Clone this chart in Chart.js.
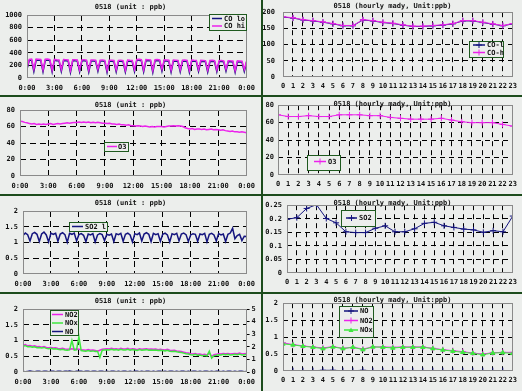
<!DOCTYPE html>
<html lang="en">
<head>
<meta charset="UTF-8">
<title>0518</title>
<style>
  html, body { margin: 0; padding: 0; }
  body { background: #1c4c1c; width: 522px; height: 391px; overflow: hidden; }
  .grid {
    display: grid;
    grid-template-columns: 261px 259px;
    grid-template-rows: 95px 97px 96px 97px;
    column-gap: 2px;
    row-gap: 2px;
  }
  .cell { background: #eceeec; }
  canvas { display: block; }
</style>
</head>
<body>
<div class="grid">
  <div class="cell"><canvas id="coDay" width="261" height="95"></canvas></div>
  <div class="cell"><canvas id="coHour" width="259" height="95"></canvas></div>
  <div class="cell"><canvas id="o3Day" width="261" height="97"></canvas></div>
  <div class="cell"><canvas id="o3Hour" width="259" height="97"></canvas></div>
  <div class="cell"><canvas id="so2Day" width="261" height="96"></canvas></div>
  <div class="cell"><canvas id="so2Hour" width="259" height="96"></canvas></div>
  <div class="cell"><canvas id="noxDay" width="261" height="97"></canvas></div>
  <div class="cell"><canvas id="noxHour" width="259" height="97"></canvas></div>
</div>

<script src="https://cdn.jsdelivr.net/npm/chart.js"></script>
<script>
// ---- data: 15 minute samples for the day (0:00 .. 24:00) ----
const STEP_H = 0.25;

const CO_HI = [
  160, 295, 300, 140,  300, 298, 295, 130,  298, 300, 292, 125,  295, 290, 288, 135,
  292, 290, 285, 120,  290, 288, 286, 130,  288, 290, 284, 125,  286, 285, 282, 140,
  284, 286, 280, 120,  282, 280, 278, 130,  280, 282, 276, 125,  285, 280, 278, 135,
  295, 298, 290, 130,  292, 290, 288, 120,  290, 292, 286, 140,  288, 285, 282, 125,
  284, 282, 280, 130,  282, 285, 278, 120,  285, 282, 280, 135,  280, 278, 276, 125,
  278, 280, 275, 130,  276, 278, 272, 140,  275, 272, 270, 120,  272, 270, 268, 135,
  265
];
const CO_LO = [
  140, 280, 285, 105,  285, 282, 280, 100,  282, 285, 276, 95,   280, 275, 272, 105,
  276, 275, 270, 90,   275, 272, 270, 100,  272, 275, 268, 95,   270, 270, 266, 110,
  268, 270, 264, 90,   266, 265, 262, 100,  265, 266, 260, 95,   270, 265, 262, 105,
  280, 282, 275, 100,  276, 275, 272, 90,   275, 276, 270, 110,  272, 270, 266, 95,
  268, 266, 265, 100,  266, 270, 262, 90,   270, 266, 265, 105,  265, 262, 260, 95,
  262, 265, 260, 100,  260, 262, 256, 110,  260, 256, 255, 90,   256, 255, 252, 105,
  250
];
const O3 = [
  66.5, 66, 65, 64.5,  63.5, 63, 63.5, 62.5,  63, 62.5, 63, 62.5,  63, 63.5, 62.5, 63,
  63.5, 63, 63.5, 64,  64.5, 64, 64.5, 65,  65, 65.5, 65, 65.5,  65, 65.5, 64.5, 65,
  64.5, 65, 64.5, 64,  64, 63.5, 64, 63,  63, 62.5, 63, 62,  62, 61.5, 62, 61,
  61, 60.5, 61, 60.5,  60, 60.5, 60, 59.5,  60, 59.5, 60, 60,  60, 59.5, 60, 60.5,
  60.5, 61, 60.5, 61,  60.5, 60, 58.5, 57.5,  57, 57.5, 56.5, 57,  57, 56.5, 57, 56,
  56.5, 57, 56, 56.5,  56, 55.5, 56, 55,  54.5, 54, 54.5, 53.5,  53.5, 53, 53.5, 53,
  52.5
];
const SO2 = [
  1.22, 1.30, 1.25, 1.05,  1.28, 1.32, 1.26, 1.03,  1.27, 1.33, 1.24, 1.02,  1.30, 1.26, 1.29, 1.04,
  1.27, 1.31, 1.25, 1.01,  1.29, 1.26, 1.30, 1.05,  1.25, 1.28, 1.23, 1.03,  1.27, 1.24, 1.28, 1.02,
  1.24, 1.28, 1.25, 1.06,  1.26, 1.23, 1.27, 1.03,  1.28, 1.25, 1.29, 1.04,  1.26, 1.30, 1.24, 1.02,
  1.28, 1.25, 1.30, 1.05,  1.27, 1.31, 1.26, 1.03,  1.29, 1.25, 1.28, 1.04,  1.26, 1.30, 1.24, 1.02,
  1.28, 1.25, 1.29, 1.05,  1.27, 1.30, 1.25, 1.03,  1.24, 1.28, 1.26, 1.04,  1.27, 1.25, 1.29, 1.02,
  1.26, 1.29, 1.24, 1.05,  1.28, 1.24, 1.27, 1.03,  1.26, 1.30, 1.45, 1.12,  1.22, 1.26, 1.06, 1.20,
  1.19
];
const NOX = [
  0.82, 0.84, 0.80, 0.81,  0.79, 0.80, 0.77, 0.78,  0.76, 0.78, 0.75, 0.74,  0.75, 0.73, 0.74, 0.72,
  0.71, 0.72, 0.70, 0.69,  0.70, 1.00, 0.69, 0.70,  1.12, 0.68, 0.67, 0.66,  0.68, 0.66, 0.67, 0.65,
  0.66, 0.46, 0.69, 0.70,  0.71, 0.70, 0.72, 0.70,  0.71, 0.69, 0.72, 0.70,  0.70, 0.72, 0.69, 0.71,
  0.70, 0.68, 0.71, 0.69,  0.70, 0.71, 0.69, 0.70,  0.69, 0.70, 0.68, 0.69,  0.68, 0.67, 0.69, 0.66,
  0.65, 0.66, 0.64, 0.63,  0.62, 0.60, 0.58, 0.57,  0.55, 0.54, 0.56, 0.53,  0.54, 0.52, 0.53, 0.51,
  0.66, 0.44, 0.52, 0.53,  0.55, 0.54, 0.56, 0.55,  0.56, 0.54, 0.55, 0.56,  0.55, 0.57, 0.54, 0.55,
  0.56
];
const NO2 = [
  0.85, 0.87, 0.83, 0.84,  0.82, 0.83, 0.80, 0.81,  0.79, 0.81, 0.78, 0.77,  0.78, 0.76, 0.77, 0.75,
  0.74, 0.75, 0.73, 0.72,  0.73, 0.74, 0.72, 0.73,  0.72, 0.71, 0.70, 0.69,  0.71, 0.69, 0.70, 0.68,
  0.66, 0.69, 0.72, 0.73,  0.74, 0.73, 0.75, 0.73,  0.74, 0.72, 0.75, 0.73,  0.73, 0.75, 0.72, 0.74,
  0.73, 0.71, 0.74, 0.72,  0.73, 0.74, 0.72, 0.73,  0.72, 0.73, 0.71, 0.72,  0.71, 0.70, 0.72, 0.69,
  0.68, 0.69, 0.67, 0.66,  0.65, 0.63, 0.61, 0.60,  0.58, 0.57, 0.59, 0.56,  0.57, 0.55, 0.56, 0.54,
  0.60, 0.50, 0.55, 0.56,  0.58, 0.57, 0.59, 0.58,  0.59, 0.57, 0.58, 0.59,  0.58, 0.60, 0.57, 0.58,
  0.59
];
const NO = [
  0.02, 0.01, 0.02, 0.03,  0.02, 0.01, 0.02, 0.02,  0.01, 0.02, 0.02, 0.01,  0.02, 0.02, 0.01, 0.02,
  0.02, 0.01, 0.02, 0.02,  0.03, 0.02, 0.01, 0.02,  0.02, 0.02, 0.01, 0.02,  0.02, 0.01, 0.02, 0.02,
  0.01, 0.02, 0.02, 0.01,  0.02, 0.01, 0.02, 0.02,  0.01, 0.02, 0.01, 0.02,  0.02, 0.01, 0.02, 0.01,
  0.02, 0.02, 0.01, 0.02,  0.01, 0.02, 0.02, 0.01,  0.02, 0.01, 0.02, 0.02,  0.01, 0.02, 0.01, 0.02,
  0.02, 0.01, 0.02, 0.01,  0.02, 0.02, 0.01, 0.02,  0.01, 0.02, 0.02, 0.01,  0.02, 0.01, 0.02, 0.02,
  0.01, 0.02, 0.01, 0.02,  0.02, 0.01, 0.02, 0.01,  0.02, 0.02, 0.01, 0.02,  0.01, 0.02, 0.02, 0.01,
  0.02
];

// ---- data: hourly averages (hours 0 .. 23) ----
const HOURS = [0, 1, 2, 3, 4, 5, 6, 7, 8, 9, 10, 11, 12, 13, 14, 15, 16, 17, 18, 19, 20, 21, 22, 23];
const CO_H_HR = [186, 183, 177, 174, 170, 165, 159, 159, 177, 174, 169, 166, 161, 157, 157, 159, 161, 165, 174, 174, 169, 164, 159, 165];
const CO_L_HR = [185, 182, 176, 173, 169, 164, 158, 158, 176, 173, 168, 165, 160, 156, 156, 158, 160, 164, 173, 173, 168, 163, 158, 164];
const O3_HR = [69, 67, 67, 68, 67, 67, 69, 69, 69, 68, 68, 66, 65, 64, 64, 64, 65, 63, 61, 60, 60, 60, 58, 56];
const SO2_HR = [0.198, 0.204, 0.238, 0.252, 0.201, 0.185, 0.152, 0.149, 0.149, 0.165, 0.174, 0.152,
                0.152, 0.163, 0.183, 0.187, 0.174, 0.168, 0.162, 0.159, 0.150, 0.156, 0.152, 0.210];
const NOX_HR = [0.80, 0.77, 0.73, 0.70, 0.66, 0.71, 0.66, 0.70, 0.63, 0.71, 0.70, 0.68,
                0.70, 0.70, 0.70, 0.66, 0.62, 0.585, 0.55, 0.52, 0.48, 0.53, 0.54, 0.52];
const NO2_HR = [0.83, 0.78, 0.74, 0.71, 0.68, 0.72, 0.67, 0.70, 0.65, 0.71, 0.71, 0.70,
                0.71, 0.71, 0.71, 0.67, 0.63, 0.60, 0.57, 0.53, 0.50, 0.54, 0.55, 0.55];
const NO_HR = [0.01, 0.01, 0.01, 0.01, 0.02, 0.02, 0.01, 0.01, 0.02, 0.01, 0.01, 0.01,
               0.01, 0.01, 0.01, 0.01, 0.01, 0.01, 0.01, 0.01, 0.01, 0.01, 0.01, 0.01];

// ---- look ----
const PANEL_BG = '#eceeec';
const NAVY = '#14147e';
const MAGENTA = '#ec22ec';
const GREEN = '#3ee83e';
const LEGEND_BORDER = '#1f5a1f';
const FONT = 'bold 7px "DejaVu Sans Mono"';

Chart.defaults.font.family = '"DejaVu Sans Mono", monospace';
Chart.defaults.font.size = 7;
Chart.defaults.font.weight = 'bold';
Chart.defaults.color = '#111';

function daySeries(values) {
  return values.map((v, i) => ({ x: i * STEP_H, y: v }));
}
function hourSeries(values) {
  return values.map((v, i) => ({ x: HOURS[i], y: v }));
}
function fmt(v) { return String(+v.toFixed(3)); }

// skip grid lines that sit on the plot frame
function innerGrid(c) {
  const s = c.scale;
  if (!c.tick) return '#000';
  return (Math.abs(c.tick.value - s.min) < 1e-9 || Math.abs(c.tick.value - s.max) < 1e-9) ? 'rgba(0,0,0,0)' : '#000';
}

function drawMarker(c, style, x, y, color) {
  c.save();
  c.strokeStyle = color; c.fillStyle = color; c.lineWidth = 1;
  if (style === 'cross') {
    c.beginPath();
    c.moveTo(x - 3, y); c.lineTo(x + 3, y);
    c.moveTo(x, y - 3); c.lineTo(x, y + 3);
    c.stroke();
  } else if (style === 'triangle') {
    c.beginPath();
    c.moveTo(x, y - 2.5); c.lineTo(x + 2.5, y + 2); c.lineTo(x - 2.5, y + 2);
    c.closePath(); c.fill();
  }
  c.restore();
}

// frame, title and boxed legend, as drawn by the original tool
function panelPlugin(p) {
  return {
    id: 'panel',
    beforeDraw(chart) {
      const c = chart.ctx;
      c.save();
      c.fillStyle = PANEL_BG;
      c.fillRect(0, 0, chart.width, chart.height);
      c.restore();
    },
    afterDraw(chart) {
      const c = chart.ctx, a = chart.chartArea;
      c.save();
      c.strokeStyle = '#8a8a8a';
      c.lineWidth = 1;
      c.strokeRect(Math.round(a.left) + 0.5, Math.round(a.top) + 0.5,
                   Math.round(a.right - a.left) - 1, Math.round(a.bottom - a.top) - 1);

      c.font = FONT;
      c.fillStyle = '#111';
      c.textAlign = 'center';
      c.textBaseline = 'middle';
      c.fillText(p.title, chart.width / 2, p.titleY);

      const L = p.legend;
      c.fillStyle = PANEL_BG;
      c.fillRect(L.x, L.y, L.w, L.h);
      c.strokeStyle = LEGEND_BORDER;
      c.strokeRect(L.x + 0.5, L.y + 0.5, L.w, L.h);
      c.textAlign = 'left';
      L.items.forEach(it => {
        const ds = chart.data.datasets[it.ds];
        c.strokeStyle = ds.borderColor;
        c.lineWidth = 1.5;
        c.beginPath();
        c.moveTo(L.lx0, it.y); c.lineTo(L.lx1, it.y);
        c.stroke();
        if (ds.pointRadius > 0) drawMarker(c, ds.pointStyle, (L.lx0 + L.lx1) / 2, it.y, ds.borderColor);
        c.fillStyle = '#111';
        c.fillText(ds.label, L.tx, it.y + 0.5);
      });
      c.restore();
    }
  };
}

function dayChart(id, p) {
  const scales = {
    x: {
      type: 'linear', min: 0, max: 24,
      ticks: { stepSize: 3, padding: p.xPad, maxRotation: 0, autoSkip: false,
               callback: v => (v % 24) + ':00' },
      grid: { color: innerGrid, lineWidth: 1, drawTicks: false },
      border: { display: false, dash: [6, 4] },
      afterFit: s => { s.height = p.xh; }
    },
    y: {
      type: 'linear', min: p.yMin, max: p.yMax,
      ticks: { stepSize: p.yStep, padding: 5, callback: fmt },
      grid: { color: innerGrid, lineWidth: 1, drawTicks: false },
      border: { display: false, dash: [6, 4] },
      afterFit: s => { s.width = p.left; }
    }
  };
  if (p.y2) {
    scales.y2 = {
      type: 'linear', position: 'right', min: p.y2.min, max: p.y2.max,
      ticks: { stepSize: p.y2.step, padding: 2, callback: fmt },
      grid: { drawOnChartArea: false, drawTicks: true, tickLength: 3, color: '#000' },
      border: { display: false },
      afterFit: s => { s.width = p.right; }
    };
  }
  return new Chart(document.getElementById(id), {
    type: 'line',
    data: { datasets: p.datasets },
    options: {
      responsive: false, animation: false,
      layout: { padding: { top: p.top, right: p.y2 ? 0 : p.right, left: 0, bottom: 0 } },
      plugins: { legend: { display: false }, tooltip: { enabled: false } },
      elements: { point: { radius: 0 }, line: { tension: 0 } },
      scales
    },
    plugins: [panelPlugin(p)]
  });
}

function hourChart(id, p) {
  return new Chart(document.getElementById(id), {
    type: 'line',
    data: { datasets: p.datasets },
    options: {
      responsive: false, animation: false,
      layout: { padding: { top: p.top, right: p.right, left: 0, bottom: 0 } },
      plugins: { legend: { display: false }, tooltip: { enabled: false } },
      elements: { line: { tension: 0 } },
      scales: {
        x: {
          type: 'linear', min: 0, max: 23,
          ticks: { stepSize: 1, padding: p.xPad, maxRotation: 0, autoSkip: false, callback: v => v },
          grid: { color: innerGrid, lineWidth: 1, drawTicks: false },
          border: { display: false, dash: [5, 4] },
          afterFit: s => { s.height = p.xh; }
        },
        y: {
          type: 'linear', min: p.yMin, max: p.yMax,
          ticks: { stepSize: p.yStep, padding: p.yPad, callback: fmt },
          grid: { color: innerGrid, lineWidth: 1, drawTicks: false },
          border: { display: false, dash: [5, 4] },
          afterFit: s => { s.width = p.left; }
        }
      }
    },
    plugins: [panelPlugin(p)]
  });
}

function dayLine(label, values, color, order) {
  return { label, data: daySeries(values), borderColor: color, backgroundColor: color,
           borderWidth: 1.5, pointRadius: 0, order };
}
function hourLine(label, values, color, style, order) {
  return { label, data: hourSeries(values), borderColor: color, backgroundColor: color,
           borderWidth: 1, pointStyle: style, pointRadius: style === 'triangle' ? 2.5 : 3,
           pointBorderWidth: 1, order };
}

const DAY_TITLE = '0518 (unit : ppb)';
const HOUR_TITLE = '0518 (hourly mady, Unit:ppb)';

// CO
dayChart('coDay', {
  title: DAY_TITLE, titleY: 7, top: 15, right: 13, left: 27, xh: 17, xPad: 6,
  yMin: 0, yMax: 1000, yStep: 200,
  datasets: [dayLine('CO lo', CO_LO, NAVY, 1), dayLine('CO hi', CO_HI, MAGENTA, 0)],
  legend: { x: 209, y: 14, w: 37, h: 16, lx0: 212, lx1: 222, tx: 224,
            items: [{ ds: 0, y: 18.5 }, { ds: 1, y: 26 }] }
});
hourChart('coHour', {
  title: HOUR_TITLE, titleY: 6, top: 12, right: 7, left: 20, xh: 18, xPad: 5, yPad: 8,
  yMin: 0, yMax: 200, yStep: 50,
  datasets: [hourLine('CO-l', CO_L_HR, NAVY, 'cross', 1), hourLine('CO-h', CO_H_HR, MAGENTA, 'cross', 0)],
  legend: { x: 206, y: 41, w: 34, h: 16, lx0: 210, lx1: 222, tx: 224,
            items: [{ ds: 0, y: 45 }, { ds: 1, y: 52.5 }] }
});

// O3
dayChart('o3Day', {
  title: DAY_TITLE, titleY: 8, top: 13, right: 13, left: 20, xh: 18, xPad: 6,
  yMin: 0, yMax: 80, yStep: 20,
  datasets: [dayLine('O3', O3, MAGENTA, 0)],
  legend: { x: 104, y: 45, w: 24, h: 9, lx0: 107, lx1: 117, tx: 118,
            items: [{ ds: 0, y: 49.5 }] }
});
hourChart('o3Hour', {
  title: HOUR_TITLE, titleY: 7, top: 8, right: 7, left: 15, xh: 19, xPad: 5, yPad: 4,
  yMin: 0, yMax: 80, yStep: 20,
  datasets: [hourLine('O3', O3_HR, MAGENTA, 'cross', 0)],
  legend: { x: 44, y: 58, w: 33, h: 15, lx0: 51, lx1: 63, tx: 65,
            items: [{ ds: 0, y: 64.5 }] }
});

// SO2
dayChart('so2Day', {
  title: DAY_TITLE, titleY: 7, top: 15, right: 13, left: 23, xh: 18, xPad: 6,
  yMin: 0, yMax: 2, yStep: 0.5,
  datasets: [dayLine('SO2 l', SO2, NAVY, 0)],
  legend: { x: 69, y: 26, w: 38, h: 9, lx0: 72, lx1: 83, tx: 85,
            items: [{ ds: 0, y: 30.5 }] }
});
hourChart('so2Hour', {
  title: HOUR_TITLE, titleY: 7, top: 9, right: 7, left: 24, xh: 19, xPad: 5, yPad: 5,
  yMin: 0, yMax: 0.25, yStep: 0.05,
  datasets: [hourLine('SO2', SO2_HR, NAVY, 'cross', 0)],
  legend: { x: 78, y: 14, w: 34, h: 16, lx0: 83, lx1: 94, tx: 96,
            items: [{ ds: 0, y: 22 }] }
});

// NOx
dayChart('noxDay', {
  title: DAY_TITLE, titleY: 7, top: 15, right: 13, left: 23, xh: 19, xPad: 6,
  yMin: 0, yMax: 2, yStep: 0.5, y2: { min: 0, max: 5, step: 1 },
  datasets: [dayLine('NO2', NO2, MAGENTA, 1), dayLine('NOx', NOX, GREEN, 0), dayLine('NO', NO, NAVY, 2)],
  legend: { x: 50, y: 16, w: 28, h: 25, lx0: 52, lx1: 63, tx: 65,
            items: [{ ds: 0, y: 20.5 }, { ds: 1, y: 29 }, { ds: 2, y: 37.5 }] }
});
hourChart('noxHour', {
  title: HOUR_TITLE, titleY: 6, top: 9, right: 7, left: 20, xh: 20, xPad: 5, yPad: 5,
  yMin: 0, yMax: 2, yStep: 0.5,
  datasets: [hourLine('NO', NO_HR, NAVY, 'cross', 2), hourLine('NO2', NO2_HR, MAGENTA, 'cross', 1),
             hourLine('NOx', NOX_HR, GREEN, 'triangle', 0)],
  legend: { x: 76, y: 12, w: 34, h: 31, lx0: 81, lx1: 95, tx: 97,
            items: [{ ds: 0, y: 17 }, { ds: 1, y: 26.5 }, { ds: 2, y: 36 }] }
});
</script>
</body>
</html>
